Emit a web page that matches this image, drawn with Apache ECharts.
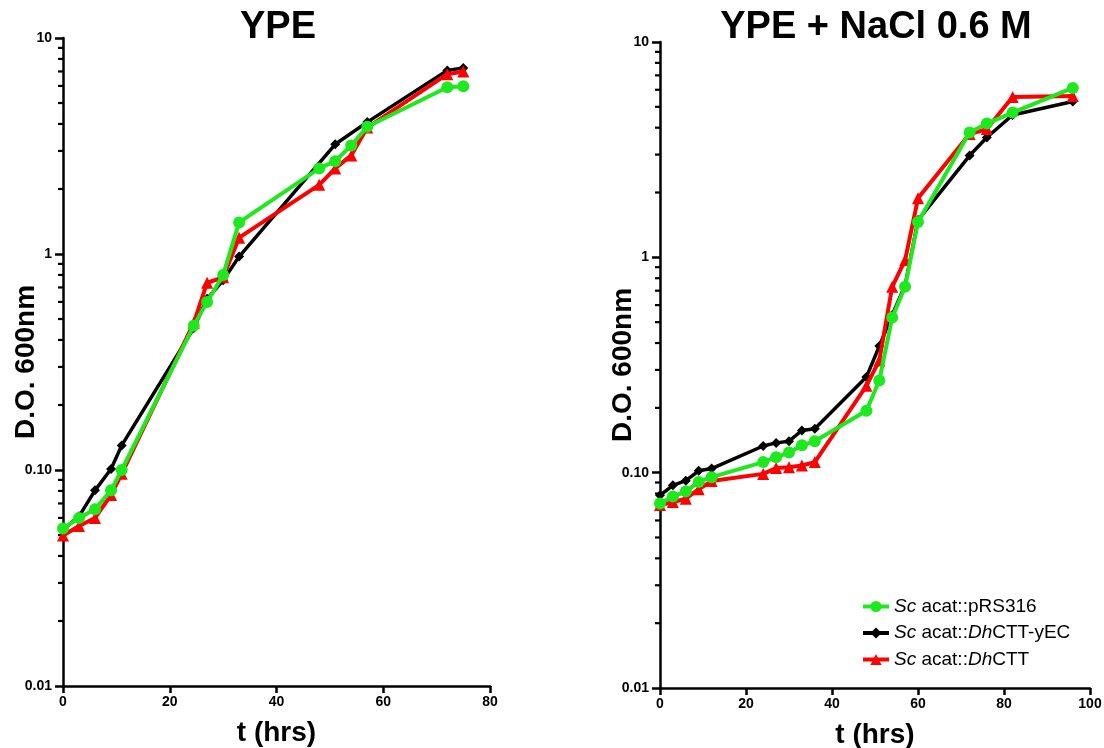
<!DOCTYPE html>
<html>
<head>
<meta charset="utf-8">
<script src="https://cdn.jsdelivr.net/npm/echarts@6/dist/echarts.min.js"></script>
<style>
html,body{margin:0;padding:0;background:#fff;}
#chart{width:1104px;height:748px;}
</style>
</head>
<body>
<div id="chart"></div>
<script>
// ---- data ----
const seriesNames = ['Sc acat::pRS316', 'Sc acat::DhCTT-yEC', 'Sc acat::DhCTT'];
const panelTitles = ['YPE', 'YPE + NaCl 0.6 M'];
const yTickLabels = {'0.01': '0.01', '0.1': '0.10', '1': '1', '10': '10'};
const minorTickValues = [0.02,0.03,0.04,0.05,0.06,0.07,0.08,0.09,0.2,0.3,0.4,0.5,0.6,0.7,0.8,0.9,2,3,4,5,6,7,8,9];

const tLeft = [0, 3, 6, 9, 11, 24.5, 27, 30, 33, 48, 51, 54, 57, 72, 75];
const greenLeft = [0.0536, 0.060, 0.0658, 0.0805, 0.100, 0.466, 0.60, 0.80, 1.40, 2.49, 2.69, 3.18, 3.88, 5.92, 5.98];
const blackLeft = [0.053, 0.061, 0.0805, 0.101, 0.13, 0.454, 0.62, 0.755, 0.973, null, 3.22, null, 4.08, 7.08, 7.26];
const redLeft = [0.0497, 0.055, 0.060, 0.0766, 0.096, 0.48, 0.736, 0.78, 1.19, 2.09, 2.49, 2.86, 3.85, 6.8, 7.0];

const tRight = [0, 3, 6, 9, 12, 24, 27, 30, 33, 36, 48, 51, 54, 57, 60, 72, 76, 82, 96];
const greenRight = [0.072, 0.0776, 0.0817, 0.0906, 0.0953, 0.112, 0.118, 0.124, 0.134, 0.14, 0.194, 0.268, 0.525, 0.73, 1.46, 3.8, 4.18, 4.7, 6.12];
const blackRight = [0.0785, 0.0873, 0.0918, 0.102, 0.1045, 0.133, 0.1375, 0.14, 0.157, 0.16, 0.278, 0.387, 0.54, 0.74, 1.49, 2.97, 3.6, 4.58, 5.29];
const redRight = [0.0708, 0.073, 0.0757, 0.0838, 0.0914, 0.0987, 0.105, 0.106, 0.108, 0.112, 0.253, 0.332, 0.73, 0.97, 1.88, 3.74, 3.94, 5.56, 5.62];

// ---- chart ----
const FONT = '"Liberation Sans", Arial, Helvetica, sans-serif';
const pair = (ts, vs) => ts.map((t, i) => [t, vs[i]]);

function yLabel(v) {
  const k = String(parseFloat(Number(v).toPrecision(6)));
  return yTickLabels[k] !== undefined ? yTickLabels[k] : '';
}

function makeXAxis(idx, max) {
  return {
    type: 'value', gridIndex: idx, min: 0, max: max, interval: 20,
    name: 't (hrs)', nameLocation: 'middle', nameGap: 33, nameMoveOverlap: false,
    nameTextStyle: {fontFamily: FONT, fontWeight: 'bold', fontSize: 28, color: '#000'},
    axisLine: {show: true, lineStyle: {color: '#000', width: 2.5}},
    axisTick: {show: true, length: 7, lineStyle: {color: '#000', width: 2.5}},
    axisLabel: {fontFamily: FONT, fontWeight: 'bold', fontSize: 14, color: '#000', margin: 9},
    splitLine: {show: false}
  };
}
function makeYAxis(idx) {
  return {
    type: 'log', logBase: 10, gridIndex: idx, min: 0.01, max: 10,
    name: 'D.O. 600nm', nameLocation: 'middle', nameGap: 23, nameMoveOverlap: false,
    nameTextStyle: {fontFamily: FONT, fontWeight: 'bold', fontSize: 28, color: '#000'},
    axisLine: {show: true, lineStyle: {color: '#000', width: 2.5}},
    axisTick: {show: true, length: 8, lineStyle: {color: '#000', width: 2.5}},
    axisLabel: {fontFamily: FONT, fontWeight: 'bold', fontSize: 14, color: '#000', margin: 11, formatter: yLabel},
    splitLine: {show: false}
  };
}

function lineSeries(name, idx, data, color, symbol, size, width, z) {
  return {
    name: name, type: 'line', xAxisIndex: idx, yAxisIndex: idx,
    data: data, connectNulls: true, z: z,
    symbol: symbol, symbolSize: size, showSymbol: true,
    lineStyle: {color: color, width: width},
    itemStyle: {color: color, borderWidth: 0},
    animation: false
  };
}

function minorSeries(idx) {
  return {
    type: 'custom', xAxisIndex: idx, yAxisIndex: idx, clip: false, silent: true, z: 1,
    data: minorTickValues.map(v => [0, v]),
    encode: {x: 0, y: 1},
    renderItem: function (params, api) {
      const p = api.coord([api.value(0), api.value(1)]);
      return {type: 'line', shape: {x1: p[0] - 5, y1: p[1], x2: p[0], y2: p[1]},
              style: {stroke: '#000', lineWidth: 2.2}};
    },
    animation: false
  };
}

const GREEN = '#1EE81E', BLACK = '#000000', RED = '#FF0000';

const option = {
  backgroundColor: '#fff',
  animation: false,
  grid: [
    {left: 63, top: 38, width: 427, height: 648, outerBoundsMode: 'none', containLabel: false},
    {left: 660, top: 42, width: 430, height: 646, outerBoundsMode: 'none', containLabel: false}
  ],
  xAxis: [makeXAxis(0, 80), makeXAxis(1, 100)],
  yAxis: [makeYAxis(0), makeYAxis(1)],
  legend: {
    data: seriesNames, orient: 'vertical', left: 856, top: 592,
    itemWidth: 26, itemHeight: 14, itemGap: 7.5,
    lineStyle: {width: 4},
    textStyle: {fontFamily: FONT, fontSize: 19, color: '#000',
      rich: {i: {fontFamily: FONT, fontSize: 19, fontStyle: 'italic', color: '#000'}}},
    formatter: function (name) {
      return name.replace(/^Sc /, '{i|Sc} ').replace('::Dh', '::{i|Dh}');
    }
  },
  graphic: [
    {type: 'text', x: 278, y: 27.5, style: {text: panelTitles[0], align: 'center', verticalAlign: 'middle',
      font: 'bold 38px ' + FONT, fill: '#000'}},
    {type: 'text', x: 876, y: 27.5, style: {text: panelTitles[1], align: 'center', verticalAlign: 'middle',
      font: 'bold 38px ' + FONT, fill: '#000'}}
  ],
  series: [
    minorSeries(0), minorSeries(1),
    lineSeries(seriesNames[1], 0, pair(tLeft, blackLeft), BLACK, 'diamond', 10, 3.5, 2),
    lineSeries(seriesNames[2], 0, pair(tLeft, redLeft), RED, 'triangle', 12, 4, 3),
    lineSeries(seriesNames[0], 0, pair(tLeft, greenLeft), GREEN, 'circle', 12, 4, 4),
    lineSeries(seriesNames[1], 1, pair(tRight, blackRight), BLACK, 'diamond', 10, 3.5, 2),
    lineSeries(seriesNames[2], 1, pair(tRight, redRight), RED, 'triangle', 12, 4, 3),
    lineSeries(seriesNames[0], 1, pair(tRight, greenRight), GREEN, 'circle', 12, 4, 4)
  ]
};

const chart = echarts.init(document.getElementById('chart'), null, {renderer: 'canvas'});
chart.setOption(option);
</script>
</body>
</html>
